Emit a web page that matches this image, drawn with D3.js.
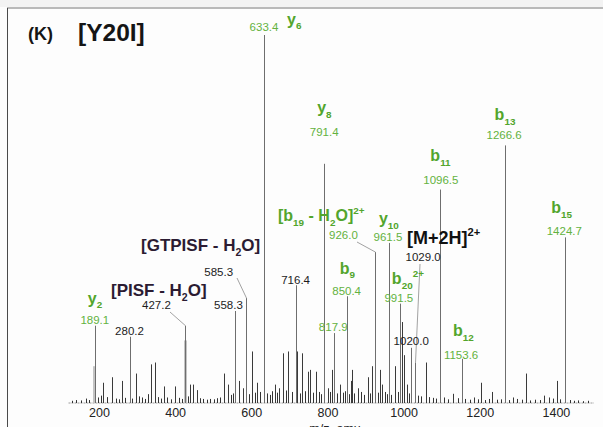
<!DOCTYPE html>
<html>
<head>
<meta charset="utf-8">
<script src="https://cdn.jsdelivr.net/npm/d3@7/dist/d3.min.js"></script>
<style>
  html, body { margin: 0; padding: 0; background: #fdfdfd; }
  svg { display: block; font-family: "Liberation Sans", Arial, sans-serif; }
</style>
</head>
<body>
<svg id="chart" width="603" height="427"></svg>
<script>
// Fragment-ion spectrum of the [Y20I] peptide (relative intensity, %)
const labelledMz  = [189.1, 280.2, 427.2, 558.3, 585.3, 633.4, 716.4, 791.4, 817.9, 850.4,
                     926.0, 961.5, 991.5, 1020.0, 1029.0, 1096.5, 1153.6, 1266.6, 1424.7];
const labelledInt = [21, 18, 21, 25, 28.5, 100, 32, 65, 19, 29,
                     41, 43.5, 27, 15, 11, 58, 12, 70, 45];

// Unlabelled fragment peaks
const minorMz  = [211, 234, 261, 296, 336, 348, 370, 400, 439, 448, 457, 528, 540, 568, 577,
                  602, 615, 662, 673, 684, 697, 720, 733, 748, 754, 770, 801, 812, 833, 861,
                  864, 881, 906, 916, 939, 943, 977, 995, 1001, 1009, 1060, 1130, 1186, 1203,
                  1233, 1287, 1321, 1368, 1381, 1402];
const minorInt = [5.5, 7, 6, 8, 10.5, 11, 4.5, 4.5, 5, 5, 3.5, 8, 5, 6, 4,
                  14, 5.5, 5, 4, 13.5, 14, 14, 13.5, 8.5, 9, 8.5, 4, 9, 5, 6,
                  9, 4, 7, 10, 9, 5, 10, 22, 13, 5, 11, 2.5, 1.5, 5.5,
                  3, 1.5, 8, 2, 1.5, 6];

// Broad unresolved envelopes under two of the low-mass ions
const envelopeMz  = [187.5, 426.5];
const envelopeInt = [10, 17];

// Low-level chemical noise along the baseline
const noiseMz  = [128, 141, 152, 166, 174, 198, 205, 222, 244, 252, 268, 287, 305, 312, 322, 329,
                  356, 362, 379, 388, 410, 418, 433, 466, 474, 483, 492, 501, 510, 519, 547, 553,
                  594, 609, 622, 641, 648, 655, 668, 690, 706, 727, 741, 762, 779, 784, 806, 824,
                  840, 845, 856, 871, 889, 896, 911, 932, 951, 956, 968, 985, 1014, 1038, 1045,
                  1068, 1077, 1085, 1105, 1117, 1142, 1162, 1175, 1195, 1214, 1224, 1245, 1256,
                  1276, 1298, 1310, 1333, 1345, 1357, 1392, 1412, 1436, 1447, 1458, 1471, 1484];
const noiseInt = [0.6, 0.8, 0.7, 1.2, 0.8, 1.5, 2.0, 1.6, 1.2, 1.0, 1.4, 1.2, 1.8, 1.5, 1.1, 2.4,
                  1.6, 1.2, 1.5, 1.0, 1.4, 1.1, 1.8, 1.3, 1.1, 0.9, 1.1, 1.0, 1.3, 1.5, 2.2, 2.6,
                  2.4, 2.8, 3.0, 2.6, 2.2, 3.2, 2.8, 3.4, 3.0, 2.6, 3.2, 2.8, 3.0, 2.4, 3.0, 2.6,
                  2.8, 3.2, 2.4, 2.6, 3.0, 2.2, 2.6, 2.8, 3.0, 2.4, 2.2, 3.0, 2.6, 2.0, 1.8,
                  1.6, 1.4, 1.2, 1.5, 1.0, 1.3, 1.1, 0.9, 1.0, 0.8, 1.1, 0.9, 1.0, 0.8, 1.1, 0.9,
                  0.7, 0.9, 0.8, 1.2, 1.0, 0.8, 0.6, 0.7, 0.5, 0.6];

const xTicks = [200, 400, 600, 800, 1000, 1200, 1400];

const GREEN = "#52a52c", GREEN_NUM = "#63b240", PURPLE = "#2b1b32", INK = "#1c1c1c";

const svg = d3.select("#chart");
const W = 603, H = 427;

svg.append("rect").attr("width", W).attr("height", H).attr("fill", "#fdfdfd");
svg.append("rect").attr("width", W).attr("height", 7).attr("fill", "#f3f3f3");
// frame: top rule and left rule
svg.append("line").attr("x1", 7).attr("x2", W).attr("y1", 8).attr("y2", 8)
  .attr("stroke", "#b9b9b9").attr("stroke-width", 2);
svg.append("line").attr("x1", 7.5).attr("x2", 7.5).attr("y1", 8).attr("y2", H)
  .attr("stroke", "#4a4a4a").attr("stroke-width", 1);

const x = d3.scaleLinear().domain([120, 1500]).range([68.5, 594]);
const y = d3.scaleLinear().domain([0, 100]).range([403, 35]);

const g = svg.append("g");

// baseline
g.append("line").attr("x1", x(120)).attr("x2", x(1500)).attr("y1", y(0)).attr("y2", y(0))
  .attr("stroke", "#9a9a9a").attr("stroke-width", 1).attr("stroke-dasharray", "2,1");

// axis (labels only, no tick marks)
const axis = d3.axisBottom(x).tickValues(xTicks).tickSize(0).tickPadding(4).tickFormat(d3.format("d"));
const ax = g.append("g").attr("transform", `translate(0,${y(0) + 1})`).call(axis);
ax.select(".domain").remove();
ax.selectAll("text").attr("font-family", "Liberation Sans, Arial, sans-serif")
  .attr("font-size", 12.5).attr("fill", "#222");

g.append("text").attr("x", x(820)).attr("y", 432.5).attr("text-anchor", "middle")
  .attr("font-size", 12.5).attr("fill", "#222").text("m/z, amu");

function sticks(mz, inten, color, width) {
  g.append("g").selectAll("line").data(d3.zip(mz, inten)).join("line")
    .attr("x1", d => Math.round(x(d[0])) + 0.5).attr("x2", d => Math.round(x(d[0])) + 0.5)
    .attr("y1", y(0)).attr("y2", d => y(d[1]))
    .attr("stroke", color).attr("stroke-width", width);
}
sticks(envelopeMz, envelopeInt, "#c4c4c4", 3);
sticks(noiseMz, noiseInt, "#333", 1);
sticks(minorMz, minorInt, "#3a3a3a", 1);
sticks(labelledMz, labelledInt, "#6e6e6e", 1);

// leader lines from value labels to their peaks: [mz, label x, label y]
const leaders = [[427.2, 170, 312], [585.3, 237, 278], [926.0, 357, 242], [1029.0, 420, 264]];
g.append("g").selectAll("line").data(leaders).join("line")
  .attr("x1", d => d[1]).attr("y1", d => d[2])
  .attr("x2", d => Math.round(x(d[0])) + 0.5)
  .attr("y2", d => y(labelledInt[labelledMz.indexOf(d[0])]))
  .attr("stroke", "#8a8a8a").attr("stroke-width", 0.8);

// value labels: [mz, dx from peak, baseline, anchor, colour]
const valueLabels = [
  [189.1, 0, 324, "middle", GREEN_NUM], [280.2, 0, 335, "middle", INK],
  [427.2, -29, 309, "middle", INK], [558.3, -7, 309, "middle", INK],
  [585.3, -27, 275.5, "middle", INK], [633.4, 0, 31, "middle", GREEN_NUM],
  [716.4, 0, 284, "middle", INK], [791.4, 0, 136, "middle", GREEN_NUM],
  [817.9, -1, 330.5, "middle", GREEN_NUM], [850.4, 0, 294.5, "middle", GREEN_NUM],
  [926.0, -32, 239, "middle", GREEN_NUM], [961.5, -1, 241, "middle", GREEN_NUM],
  [991.5, -1.5, 302, "middle", GREEN_NUM], [1020.0, 0, 344.5, "middle", INK],
  [1029.0, 8.5, 261, "middle", INK], [1096.5, 0.5, 184, "middle", GREEN_NUM],
  [1153.6, -1, 359, "middle", GREEN_NUM], [1266.6, -1, 139, "middle", GREEN_NUM],
  [1424.7, -1, 235, "middle", GREEN_NUM]
];
g.append("g").selectAll("text").data(valueLabels).join("text")
  .attr("x", d => x(d[0]) + d[1]).attr("y", d => d[2])
  .attr("text-anchor", d => d[3]).attr("fill", d => d[4])
  .attr("font-size", 11.5)
  .text(d => d[0].toFixed(1));

// rich labels: parts are [text, kind] with kind n (normal), sub, sup
function rich(xp, yp, parts, size, color, anchor) {
  const t = g.append("text").attr("x", xp).attr("y", yp).attr("font-size", size)
    .attr("font-weight", "bold").attr("fill", color).attr("text-anchor", anchor || "start");
  let shift = 0;
  parts.forEach(([s, k]) => {
    const target = k === "sub" ? size * 0.3 : k === "sup" ? -size * 0.42 : 0;
    t.append("tspan").attr("dy", target - shift)
      .attr("font-size", k === "n" ? size : size * 0.62).text(s);
    shift = target;
  });
  return t;
}

// ion names placed from their peaks: [mz, dx, baseline, parts, size, colour]
const ionNames = [
  [189.1, -7, 303.5, [["y", "n"], ["2", "sub"]], 16, GREEN],
  [633.4, 23, 24.5, [["y", "n"], ["6", "sub"]], 16, GREEN],
  [791.4, -7, 113, [["y", "n"], ["8", "sub"]], 16, GREEN],
  [850.4, -7, 273.5, [["b", "n"], ["9", "sub"]], 16, GREEN],
  [961.5, -10, 224, [["y", "n"], ["10", "sub"]], 16, GREEN],
  [991.5, -8.5, 284, [["b", "n"], ["20", "sub"], ["2+", "sup"]], 16, GREEN],
  [1096.5, -10, 161, [["b", "n"], ["11", "sub"]], 16, GREEN],
  [1153.6, -9, 336, [["b", "n"], ["12", "sub"]], 16, GREEN],
  [1266.6, -10.5, 120, [["b", "n"], ["13", "sub"]], 16, GREEN],
  [1424.7, -14, 213, [["b", "n"], ["15", "sub"]], 16, GREEN]
];
ionNames.forEach(d => rich(x(d[0]) + d[1], d[2], d[3], d[4], d[5]));

// multi-charge and neutral-loss annotations
rich(278, 221, [["[b", "n"], ["19", "sub"], [" - H", "n"], ["2", "sub"], ["O]", "n"], ["2+", "sup"]], 16, GREEN);
rich(407, 244, [["[M+2H]", "n"], ["2+", "sup"]], 18, "#111");
rich(141, 251, [["[GTPISF - H", "n"], ["2", "sub"], ["O]", "n"]], 17, PURPLE);
rich(111, 296, [["[PISF - H", "n"], ["2", "sub"], ["O]", "n"]], 17, PURPLE);

// panel title
rich(28, 40, [["(K)", "n"]], 18, "#151515");
rich(78, 41, [["[Y20I]", "n"]], 24.5, "#151515");
</script>
</body>
</html>
